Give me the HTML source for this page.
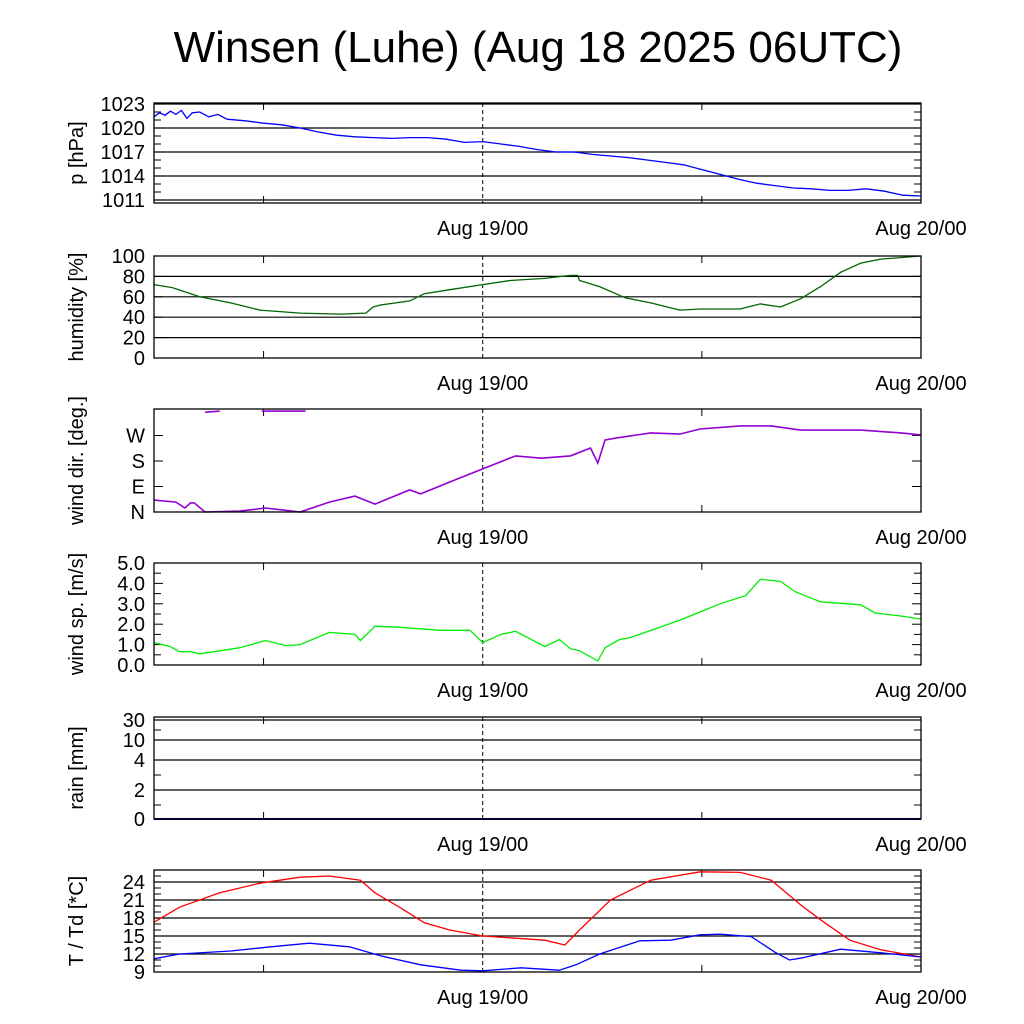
<!DOCTYPE html>
<html><head><meta charset="utf-8"><style>
body{margin:0;background:#fff}
svg{display:block;font-family:"Liberation Sans",sans-serif}
</style></head><body>
<svg id="c" width="1024" height="1024" viewBox="0 0 1024 1024">
<text x="538" y="62" font-size="44" text-anchor="middle">Winsen (Luhe) (Aug 18 2025 06UTC)</text>
</svg>
<script>
// hours since Aug 18 06UTC
const presH=[0,0.3,0.6,0.9,1.2,1.5,1.8,2.1,2.5,3,3.5,4,5,6,7,8,9,10,11,12,13,14,15,16,17,18,19,20,21,22,23,24,25,26,27,28,29,30,31,32,33,34,35,36,37,38,39,40,41,42];
const presV=[1021.4,1021.9,1021.6,1022.1,1021.7,1022.2,1021.2,1021.9,1022.0,1021.4,1021.7,1021.1,1020.9,1020.6,1020.4,1020.0,1019.5,1019.1,1018.9,1018.8,1018.7,1018.8,1018.8,1018.6,1018.2,1018.3,1018.0,1017.7,1017.3,1017.0,1017.0,1016.7,1016.5,1016.3,1016.0,1015.7,1015.4,1014.8,1014.2,1013.6,1013.1,1012.8,1012.5,1012.4,1012.2,1012.2,1012.4,1012.1,1011.6,1011.5];
const humH=[0,1,2.5,4.2,5.8,8,10.2,11.6,12.0,12.4,14,14.8,16.2,18,19.5,21.4,22.8,23.2,23.3,24.4,25.8,27.2,28.8,29.9,32.1,33.2,34.3,35.4,36.5,37.6,38.7,39.8,42];
const humV=[72,69,60,54,47,44,43,44,50,52,56,63,67,72,76,78,81,81,76,70,59,54,47,48,48,53,50,58,70,84,93,97,100];
const dirH=[0,1.2,1.7,2.0,2.2,2.8,4.7,6.1,8.0,9.6,11.0,12.1,14.0,14.6,16.2,18,19.8,21.2,22.8,23.9,24.3,24.7,25.3,27.2,28.8,29.9,32.1,33.8,35.4,38.7,40.9,42];
const dirV=[42,35,14,32,32,0,3,14,0,35,56,28,78,64,106,152,198,190,198,226,173,254,261,279,275,293,304,304,289,289,279,272];
const dirWrapA_H=[2.8,3.6];const dirWrapA_V=[352,356];
const dirWrapB_H=[5.9,8.3];const dirWrapB_V=[356,356];
const spdH=[0,0.9,1.4,2.0,2.5,3.3,4.7,6.1,7.2,8.0,9.6,11.0,11.3,12.1,13.5,15.7,17.3,18,19.0,19.8,21.4,22.2,22.8,23.3,24.3,24.7,25.5,26.1,27.7,28.8,29.9,31.0,32.4,33.2,34.3,35.1,36.5,38.7,39.5,40.9,42];
const spdV=[1.1,0.9,0.65,0.65,0.55,0.65,0.85,1.2,0.95,1.0,1.6,1.5,1.2,1.9,1.85,1.7,1.7,1.1,1.5,1.65,0.9,1.25,0.8,0.7,0.2,0.85,1.25,1.35,1.85,2.2,2.6,3.0,3.4,4.2,4.1,3.6,3.1,2.95,2.55,2.4,2.25];
const tempH=[0,1.4,3.6,5.8,8.0,9.6,11.3,12.1,13.5,14.8,16.2,18,19.5,21.4,22.5,23.3,25.0,27.2,29.9,32.1,33.8,35.4,36.5,38.1,39.8,42];
const tempV=[17.3,19.8,22.2,23.8,24.8,25.0,24.3,22.2,19.7,17.2,16.0,15.0,14.7,14.3,13.5,16.0,21.0,24.3,25.7,25.6,24.3,20.2,17.7,14.3,12.7,11.5];
const dewH=[0,1.4,4.2,6.4,8.5,10.7,12.4,14.6,16.8,18,20.1,22.2,23.1,24.4,26.6,28.3,29.9,31.0,32.7,34.0,34.8,35.4,37.6,39.8,42];
const dewV=[11.2,12.0,12.5,13.2,13.8,13.2,11.7,10.2,9.3,9.2,9.7,9.3,10.2,12.0,14.2,14.3,15.2,15.3,14.9,12.3,11.0,11.3,12.8,12.2,11.5];
const rainH=[0,42];const rainV=[0,0];

const NS="http://www.w3.org/2000/svg";
const svg=document.getElementById('c');
const X0=154,X1=921,HT=42;
const xs=h=>X0+(X1-X0)*h/HT;
function el(t,a,p){const e=document.createElementNS(NS,t);for(const k in a)e.setAttribute(k,a[k]);(p||svg).appendChild(e);return e;}
function panel(name,top,bot,ys,label,ticks,grid,minor,series){
  const g=el('g',{});
  
  
  grid.forEach(v=>{const l=el('line',{x1:X0,x2:X1,y1:ys(v),y2:ys(v),stroke:'#000','stroke-width':1.2},g);
    });
  minor.forEach(v=>{el('line',{x1:X0,x2:X0+7,y1:ys(v),y2:ys(v),stroke:'#000'},g);el('line',{x1:X1,x2:X1-7,y1:ys(v),y2:ys(v),stroke:'#000'},g);});
  ticks.forEach(t=>{el('line',{x1:X0,x2:X0+9,y1:ys(t[0]),y2:ys(t[0]),stroke:'#000'},g);el('line',{x1:X1,x2:X1-9,y1:ys(t[0]),y2:ys(t[0]),stroke:'#000'},g);
    const tx=el('text',{x:145,y:ys(t[0])+7,'font-size':20,'text-anchor':'end'},g);tx.textContent=t[1];
    });
  [6,30].forEach(h=>{el('line',{x1:xs(h),x2:xs(h),y1:bot,y2:bot-7,stroke:'#000'},g);el('line',{x1:xs(h),x2:xs(h),y1:top,y2:top+7,stroke:'#000'},g);});
  const d=el('line',{x1:xs(18),x2:xs(18),y1:top,y2:bot,stroke:'#000','stroke-dasharray':'4,3'},g);
  
  series.forEach(s=>{
    const p=el('polyline',{points:s.h.map((h,i)=>xs(h).toFixed(1)+','+ys(s.v[i]).toFixed(1)).join(' '),fill:'none',stroke:s.c,'stroke-width':s.w||1.3},g);
    });
  const fr=el('rect',{x:X0,y:top,width:X1-X0,height:bot-top,fill:'none',stroke:'#000','stroke-width':1.3},g);
  
  const cy=(top+bot)/2;
  const yl=el('text',{x:0,y:0,'font-size':20,'text-anchor':'middle',transform:`translate(83,${cy}) rotate(-90)`},g);yl.textContent=label;
  
  [[18,'Aug 19/00'],[42,'Aug 20/00']].forEach(a=>{const t=el('text',{x:xs(a[0]),y:bot+32,'font-size':20,'text-anchor':'middle'},g);t.textContent=a[1];
    });
}
// pressure
const py=v=>200-(v-1011)*8;
let pm=[];for(let v=1011;v<=1023;v++)pm.push(v);
panel('pressure',103,203,py,'p [hPa]',[[1023,'1023'],[1020,'1020'],[1017,'1017'],[1014,'1014'],[1011,'1011']],[1023,1020,1017,1014,1011],pm,[{h:presH,v:presV,c:'#0000ff',n:'pressure-line'}]);
// humidity
const hy=v=>358-v*1.02;
panel('humidity',256,358,hy,'humidity [%]',[[0,'0'],[20,'20'],[40,'40'],[60,'60'],[80,'80'],[100,'100']],[20,40,60,80],[],[{h:humH,v:humV,c:'#006400',n:'humidity-line'}]);
// wind dir
const dy=v=>512-v*102/360;
panel('wind-direction',409,512,dy,'wind dir. [deg.]',[[0,'N'],[90,'E'],[180,'S'],[270,'W']],[],[],[{h:dirH,v:dirV,c:'#9400d3',n:'wind-direction-line',w:1.6},{h:dirWrapA_H,v:dirWrapA_V,c:'#9400d3',n:'wind-direction-wrap',w:1.6},{h:dirWrapB_H,v:dirWrapB_V,c:'#9400d3',n:'wind-direction-wrap',w:1.6}]);
// wind speed
const sy=v=>665-v*20.4;
panel('wind-speed',563,665,sy,'wind sp. [m/s]',[[0,'0.0'],[1,'1.0'],[2,'2.0'],[3,'3.0'],[4,'4.0'],[5,'5.0']],[],[0.5,1.5,2.5,3.5,4.5],[{h:spdH,v:spdV,c:'#00ee00',n:'wind-speed-line'}]);
// rain (pseudo-log)
const rmap=[[0,819],[1,805],[2,790],[3,775],[4,760],[10,740],[20,730],[30,720]];
const ry=v=>{for(let i=1;i<rmap.length;i++){if(v<=rmap[i][0]){const a=rmap[i-1],b=rmap[i];return a[1]+(b[1]-a[1])*(v-a[0])/(b[0]-a[0]);}}return 720;};
panel('rain',717,819,ry,'rain [mm]',[[0,'0'],[2,'2'],[4,'4'],[10,'10'],[30,'30']],[2,4,10,30],[1,3,20],[{h:rainH,v:rainV,c:'#00008b',n:'rain-line',w:2}]);
// temperature
const ty=v=>972-(v-9)*6;
let tm=[];for(let v=9;v<=26;v++)tm.push(v);
panel('temperature',870,972,ty,'T / Td [*C]',[[9,'9'],[12,'12'],[15,'15'],[18,'18'],[21,'21'],[24,'24']],[12,15,18,21,24],tm,[{h:tempH,v:tempV,c:'#ff0000',n:'temperature-line'},{h:dewH,v:dewV,c:'#0000ff',n:'dewpoint-line'}]);
</script>
</body></html>
